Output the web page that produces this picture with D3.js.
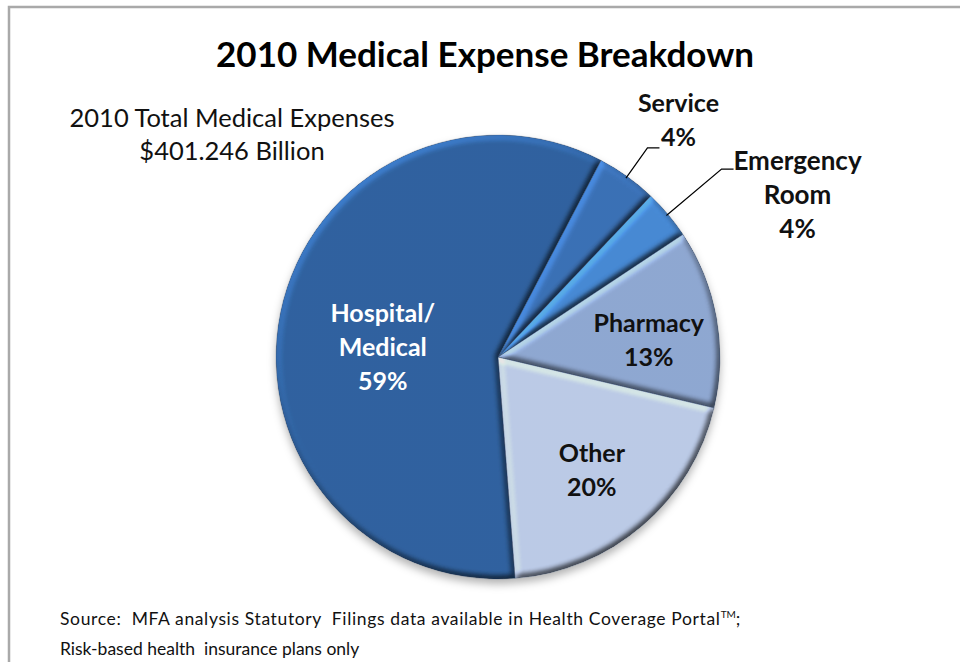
<!DOCTYPE html>
<html>
<head>
<meta charset="utf-8">
<script src="https://cdn.jsdelivr.net/npm/d3@7"></script>
<style>
  body { margin: 0; background: #fff; }
  text { font-family: Lato, "Open Sans", sans-serif; white-space: pre; }
</style>
</head>
<body>
<div id="chart"></div>
<script>
// slices, clockwise starting at the bottom
var categories = ["Hospital/Medical", "Service", "Emergency Room", "Pharmacy", "Other"];
var labelLines = [["Hospital/", "Medical"], ["Service"], ["Emergency", "Room"], ["Pharmacy"], ["Other"]];
var shares = [58.9, 4.4, 3.6, 13.0, 20.1];
var colors = ["#3062a0", "#3b71b6", "#4789d4", "#8fa8d2", "#bccbe8"];

var title = "2010 Medical Expense Breakdown";
var totalNote = ["2010 Total Medical Expenses", "$401.246 Billion"];
var sourceNote = ["Source:  MFA analysis Statutory  Filings data available in Health Coverage Portal", "Risk-based health  insurance plans only"];

var width = 960, height = 662;
var cx = 498, cy = 357, R = 222;

var svg = d3.select('#chart').append('svg')
  .attr('width', width)
  .attr('height', height);

// outer frame of the chart area (runs off the page right and bottom)
svg.append('rect')
  .attr('x', 9).attr('y', 7)
  .attr('width', 1000).attr('height', 700)
  .attr('fill', '#fff')
  .attr('stroke', '#a9a9a9')
  .attr('stroke-width', 2.5);

var defs = svg.append('defs');

var shadow = defs.append('filter').attr('id', 'shadow')
  .attr('x', '-20%').attr('y', '-20%').attr('width', '140%').attr('height', '140%');
shadow.append('feDropShadow')
  .attr('dx', 0).attr('dy', 5).attr('stdDeviation', 4)
  .attr('flood-color', '#000').attr('flood-opacity', 0.3);

// soft bevel, light from upper left
var bevel = defs.append('filter').attr('id', 'bevel')
  .attr('color-interpolation-filters', 'sRGB')
  .attr('x', '-5%').attr('y', '-5%').attr('width', '110%').attr('height', '110%');
bevel.append('feGaussianBlur')
  .attr('in', 'SourceAlpha').attr('stdDeviation', 3).attr('result', 'blur');
bevel.append('feDiffuseLighting')
  .attr('in', 'blur').attr('surfaceScale', 4).attr('diffuseConstant', 1)
  .attr('lighting-color', '#fff').attr('result', 'light')
  .append('feDistantLight').attr('azimuth', 235).attr('elevation', 45);
bevel.append('feComposite')
  .attr('in', 'SourceGraphic').attr('in2', 'light')
  .attr('operator', 'arithmetic')
  .attr('k1', 1).attr('k2', 0.4).attr('k3', 0).attr('k4', 0)
  .attr('result', 'lit');
bevel.append('feComposite')
  .attr('in', 'lit').attr('in2', 'SourceAlpha').attr('operator', 'in');

var rim = defs.append('radialGradient').attr('id', 'rim')
  .attr('gradientUnits', 'userSpaceOnUse')
  .attr('cx', cx).attr('cy', cy).attr('r', R);
rim.append('stop').attr('offset', '0%').attr('stop-color', '#fff').attr('stop-opacity', 0.14);
rim.append('stop').attr('offset', '60%').attr('stop-color', '#fff').attr('stop-opacity', 0);
rim.append('stop').attr('offset', '92%').attr('stop-color', '#000').attr('stop-opacity', 0);
rim.append('stop').attr('offset', '100%').attr('stop-color', '#000').attr('stop-opacity', 0.1);

var start = -184.4 * Math.PI / 180;
var pie = d3.pie().sort(null).value(function (d) { return d; })
  .startAngle(start).endAngle(start + 2 * Math.PI);
var arcs = pie(shares);
var total = d3.sum(shares);
var pct = d3.format('.0%');

var arc = d3.arc().innerRadius(0).outerRadius(R);

var pieG = svg.append('g')
  .attr('transform', 'translate(' + cx + ',' + cy + ')')
  .attr('filter', 'url(#shadow)');

pieG.selectAll('path.slice')
  .data(arcs)
  .enter().append('path')
    .attr('class', 'slice')
    .attr('d', arc)
    .attr('fill', function (d, i) { return colors[i]; })
    .attr('filter', 'url(#bevel)');

// rim gradient is in page coords
svg.append('g').selectAll('path')
  .data(arcs)
  .enter().append('path')
    .attr('d', arc)
    .attr('transform', 'translate(' + cx + ',' + cy + ')')
    .attr('fill', 'url(#rim)')
    .attr('stroke', '#1d3b63')
    .attr('stroke-opacity', 0.3)
    .attr('stroke-width', 0.8);

function pointAt(angle, r) {
  return [Math.sin(angle) * r, -Math.cos(angle) * r];
}

var lineH = 34;

// labels inside the slices
var inside = { 0: [0.53, 4], 3: [0.69, 0], 4: [0.65, -7] };
var labelG = svg.append('g').attr('transform', 'translate(' + cx + ',' + cy + ')');

arcs.forEach(function (d, i) {
  var o = inside[i];
  if (!o) return;
  var lines = labelLines[i].concat([pct(d.value / total)]);
  var mid = (d.startAngle + d.endAngle) / 2;
  var p = pointAt(mid, R * o[0]);
  var y0 = p[1] + 19 + o[1] - (lines.length - 1) * lineH / 2;
  labelG.append('text')
    .attr('text-anchor', 'middle')
    .attr('font-size', 25)
    .attr('font-weight', 'bold')
    .attr('fill', i === 0 ? '#fff' : '#111')
    .selectAll('tspan')
    .data(lines)
    .enter().append('tspan')
      .attr('x', p[0])
      .attr('y', function (t, k) { return y0 + k * lineH; })
      .text(function (t) { return t; });
});

// labels outside with leader lines
var outside = {
  1: { ext: 35, run: 12, dx: 19, dy: -36, size: 25 },
  2: { ext: 70, run: 12, dx: 64, dy: 1, size: 26 }
};
arcs.forEach(function (d, i) {
  var o = outside[i];
  if (!o) return;
  var mid = (d.startAngle + d.endAngle) / 2;
  var a = pointAt(mid, R - 2);
  var b = pointAt(mid, R + o.ext);
  var c = [b[0] + o.run, b[1]];
  labelG.append('path')
    .attr('d', d3.line()([a, b, c]))
    .attr('fill', 'none')
    .attr('stroke', '#000')
    .attr('stroke-width', 1.2);
  var lines = labelLines[i].concat([pct(d.value / total)]);
  labelG.append('text')
    .attr('text-anchor', 'middle')
    .attr('font-size', o.size)
    .attr('font-weight', 'bold')
    .attr('fill', '#111')
    .selectAll('tspan')
    .data(lines)
    .enter().append('tspan')
      .attr('x', c[0] + o.dx)
      .attr('y', function (t, k) { return c[1] + o.dy + k * lineH; })
      .text(function (t) { return t; });
});

// title
svg.append('text')
  .attr('x', 485).attr('y', 67)
  .attr('text-anchor', 'middle')
  .attr('font-size', 35)
  .attr('font-weight', 'bold')
  .attr('fill', '#000')
  .text(title);

// total note
svg.append('text')
  .attr('text-anchor', 'middle')
  .attr('font-size', 25.5)
  .attr('fill', '#111')
  .selectAll('tspan')
  .data(totalNote)
  .enter().append('tspan')
    .attr('x', 232)
    .attr('y', function (t, k) { return 127 + k * 33; })
    .text(function (t) { return t; });

// source note
var src = svg.append('text')
  .attr('font-size', 17.5)
  .attr('fill', '#111');
src.append('tspan').attr('x', 60).attr('y', 625)
  .attr('textLength', 660).attr('lengthAdjust', 'spacing')
  .text(sourceNote[0]);
src.append('tspan').attr('font-size', 10).attr('dy', -7).text('TM');
src.append('tspan').attr('dy', 7).text(';');
src.append('tspan').attr('x', 60).attr('y', 655).text(sourceNote[1]);
</script>
</body>
</html>
